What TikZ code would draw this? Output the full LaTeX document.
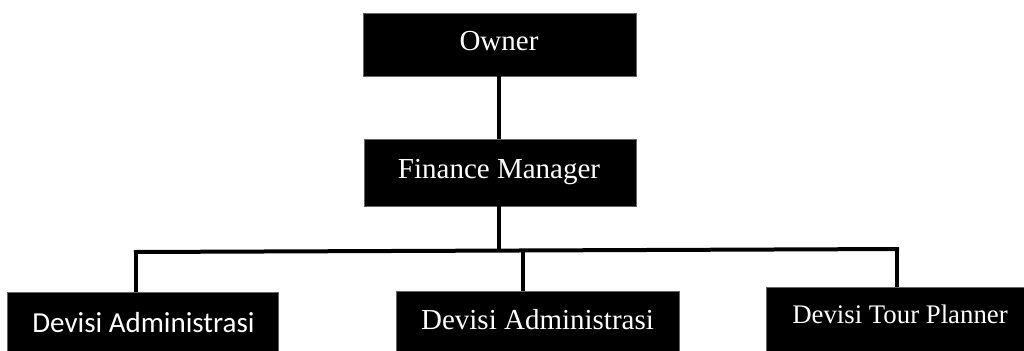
\documentclass[tikz,border=0pt]{standalone}
\usepackage{fontspec}
\setmainfont{Liberation Serif}
\newfontfamily\calibrifont{Carlito}
\begin{document}
\begin{tikzpicture}[x=0.5pt,y=-0.5pt,
  box/.style={draw=black!60,line width=0.4pt,fill=black,inner sep=0pt,minimum width=#1},
  lbl/.style={text=white,inner sep=0pt,anchor=base,font=\fontsize{14.5}{17}\selectfont},
  conn/.style={line width=2pt,black}]
\useasboundingbox (0,0) rectangle (1024,350);
% boxes
\node[box=136.5pt,minimum height=31.5pt] (owner) at (499.5,44.5) {};
\node[box=136pt,minimum height=33.5pt] (fm) at (500,172.5) {};
\node[box=135.5pt,minimum height=30pt] (left) at (142.5,322) {};
\node[box=141.5pt,minimum height=30.5pt] (mid) at (537.5,321.5) {};
\node[box=130pt,minimum height=32.5pt] (right) at (896,319.5) {};
% labels
\node[lbl] (towner) at (499,50) {Owner};
\node[lbl] (tfm) at (499,178) {Finance Manager};
\node[lbl,font=\calibrifont\fontsize{14.5}{17}\selectfont] (tleft) at (143.5,332) {Devisi Administrasi};
\node[lbl] (tmid) at (537.5,329) {Devisi Administrasi};
\node[lbl,font=\fontsize{13.4}{16}\selectfont] (tright) at (900,323) {Devisi Tour Planner};
% connector points
\coordinate (bl) at (134,252);
\coordinate (br) at (899,249);
\coordinate (jc) at (498.5,250.5);
\coordinate (jl) at (136,252);
\coordinate (jm) at (523,250.5);
\coordinate (jr) at (897,249);
% connectors
\draw[conn] (owner.south -| 499,0) -- (fm.north -| 499,0);
\draw[conn] (fm.south -| jc) -- (jc);
\draw[conn] (bl) -- (br);
\draw[conn] (jl) -- (jl |- left.north);
\draw[conn] (jm) -- (jm |- mid.north);
\draw[conn] (jr) -- (jr |- right.north);
\end{tikzpicture}
\end{document}
